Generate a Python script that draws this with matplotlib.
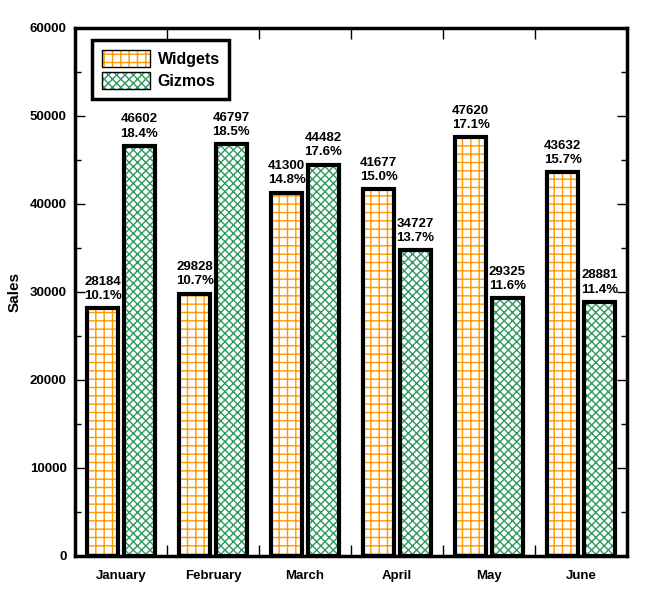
import matplotlib
matplotlib.use("Agg")
import matplotlib.pyplot as plt
import numpy as np
from matplotlib.ticker import MultipleLocator, FixedLocator
from matplotlib.patches import Patch

plt.rcParams['font.family'] = ['Liberation Sans', 'DejaVu Sans']
plt.rcParams['hatch.linewidth'] = 1.0

months = ["January", "February", "March", "April", "May", "June"]
widgets = [28184, 29828, 41300, 41677, 47620, 43632]
gizmos = [46602, 46797, 44482, 34727, 29325, 28881]
widgets_pct = ["10.1%", "10.7%", "14.8%", "15.0%", "17.1%", "15.7%"]
gizmos_pct = ["18.4%", "18.5%", "17.6%", "13.7%", "11.6%", "11.4%"]

fig = plt.figure(figsize=(6.51, 6.0), dpi=100)
ax = fig.add_axes([75/651, 1-556/600, 552/651, 528/600])

x = np.arange(len(months))
w = 0.34
off = 0.2
wc = "#FF9900"
gc = "#2E9960"
wh = "++"
gh = "xxxx"

for xs, vals, col, hatch, pcts in [
    (x - off, widgets, wc, wh, widgets_pct),
    (x + off, gizmos, gc, gh, gizmos_pct),
]:
    ax.bar(xs, vals, w, facecolor="white", edgecolor=col, hatch=hatch, linewidth=0, zorder=2)
    ax.bar(xs, vals, w, facecolor="none", edgecolor="black", linewidth=3, zorder=3)
    for xi, v, p in zip(xs, vals, pcts):
        ax.text(xi, v + 700, f"{v}\n{p}", ha="center", va="bottom", fontsize=9.5,
                fontweight="bold", linespacing=1.25, zorder=4)

h1 = (Patch(facecolor="white", edgecolor=wc, hatch=wh, linewidth=0),
      Patch(facecolor="none", edgecolor="black", linewidth=1))
h2 = (Patch(facecolor="white", edgecolor=gc, hatch=gh, linewidth=0),
      Patch(facecolor="none", edgecolor="black", linewidth=1))
leg = ax.legend([h1, h2], ["Widgets", "Gizmos"], loc="upper left",
                bbox_to_anchor=(17/552, 1-12/528), borderaxespad=0, fancybox=False, framealpha=1,
                edgecolor="black", prop={"size": 11.5, "weight": "bold"}, handlelength=3.0,
                handleheight=1.3, borderpad=0.6, labelspacing=0.3, handletextpad=0.5)
leg.get_frame().set_linewidth(2.5)

ax.set_xlim(-0.5, 5.5)
ax.set_ylim(0, 60000)
ax.set_xticks(x)
ax.set_xticklabels(months, fontweight="bold", fontsize=9.5)
ax.xaxis.set_minor_locator(FixedLocator(np.arange(0.5, 5.5, 1.0)))
ax.yaxis.set_major_locator(MultipleLocator(10000))
ax.yaxis.set_minor_locator(MultipleLocator(5000))
for lab in ax.get_yticklabels():
    lab.set_fontweight("bold")
    lab.set_fontsize(9.5)
ax.tick_params(axis="x", which="major", length=0, pad=10)
ax.tick_params(axis="x", which="minor", direction="in", length=8, width=1, top=True, bottom=True)
ax.tick_params(axis="y", which="major", direction="in", length=7, width=1, left=True, right=True, pad=6)
ax.tick_params(axis="y", which="minor", direction="in", length=4, width=1, left=True, right=True)
for s in ax.spines.values():
    s.set_linewidth(2.5)
ax.set_ylabel("Sales", fontweight="bold", fontsize=11, labelpad=6)

fig.savefig("out.png", dpi=100)
